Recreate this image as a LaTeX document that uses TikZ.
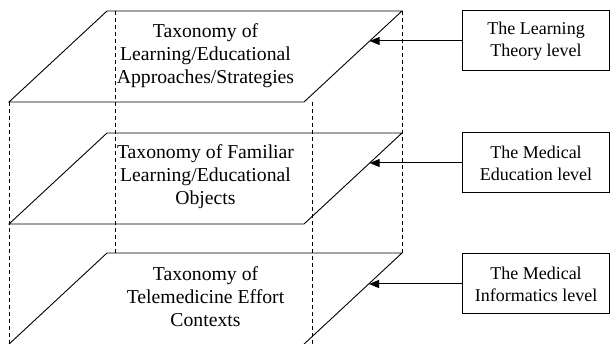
\documentclass[tikz,border=0pt]{standalone}
\usepackage{fontspec}
\setmainfont{Liberation Serif}
\usetikzlibrary{arrows.meta,calc}
\tikzset{
  plane/.style={draw=black, line width=0.9pt, line join=miter},
  guide/.style={draw=black, line width=0.8pt, dash pattern=on 4pt off 3pt},
  planetext/.style={align=center, font=\fontsize{19.7}{23}\selectfont, inner sep=0pt},
  levelbox/.style={draw=black, line width=1pt, minimum width=147pt, minimum height=60pt,
    align=center, font=\fontsize{18}{22}\selectfont, inner sep=0pt},
  pointer/.style={draw=black, line width=1pt, -{Triangle[length=10pt,width=8pt]}}
}
\begin{document}
\begin{tikzpicture}[x=1pt,y=-1pt]
\useasboundingbox (0,0) rectangle (610,344);
\clip (0,0) rectangle (610,344);
% planes corners
\foreach \n/\t in {a/11,b/133,c/253}{
  \coordinate (\n tl) at (107,\t);
  \coordinate (\n tr) at (402,\t);
  \coordinate (\n br) at (304,\t+91);
  \coordinate (\n bl) at (9,\t+91);
}
% third plane is cut by the lower edge of the picture
\coordinate (cbr) at (302,346);
\coordinate (cbl) at (7,346);
% dashed guides
\coordinate (g1s) at (9,102);   \coordinate (g1e) at (9,346);
\coordinate (g2s) at (115,11);  \coordinate (g2e) at (115,253);
\coordinate (g3s) at (312,102); \coordinate (g3e) at (312,346);
\coordinate (g4s) at (402,11);  \coordinate (g4e) at (402,253);
\draw[guide] (g1s) -- (g1e);
\draw[guide] (g2s) -- (g2e);
\draw[guide] (g3s) -- (g3e);
\draw[guide] (g4s) -- (g4e);
% planes
\foreach \n in {a,b,c}{
  \draw[plane] (\n tl) -- (\n tr) -- (\n br) -- (\n bl) -- cycle;
}
% plane texts
\node[planetext] (ta) at (205.5,56) {Taxonomy of\\Learning/Educational\\Approaches/Strategies};
\node[planetext] (tb) at (205.5,177) {Taxonomy of Familiar\\Learning/Educational\\Objects};
\node[planetext] (tc) at (205.5,297) {Taxonomy of\\Telemedicine Effort\\Contexts};
% level boxes
\node[levelbox] (la) at (536,41) {The Learning\\Theory level};
\node[levelbox] (lb) at (536,163) {The Medical\\Education level};
\node[levelbox] (lc) at (536,284) {The Medical\\Informatics level};
% arrow targets on right edges
\coordinate (pa) at ($(atr)!0.33!(abr)$);
\coordinate (pb) at ($(btr)!0.33!(bbr)$);
\coordinate (pc) at ($(ctr)!0.33!(cbr)$);
\draw[pointer] (la.west) -- (la.west -| pa);
\draw[pointer] (lb.west) -- (lb.west -| pb);
\draw[pointer] (lc.west) -- (lc.west -| pc);
\end{tikzpicture}
\end{document}
